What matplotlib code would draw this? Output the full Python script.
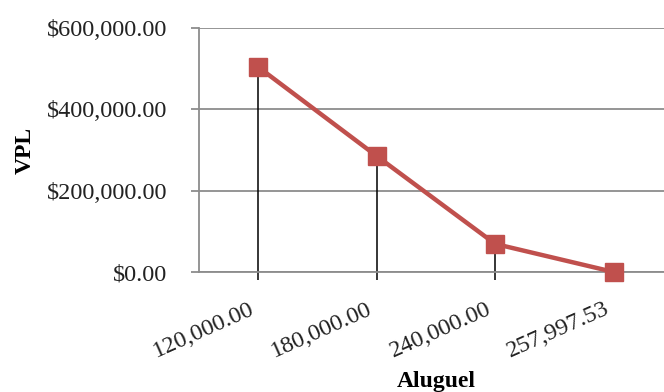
import matplotlib.pyplot as plt
import matplotlib.transforms as mtransforms
from matplotlib.ticker import FuncFormatter

# Values
aluguel = ["120,000.00", "180,000.00", "240,000.00", "257,997.53"]
vpl = [504000, 285000, 69000, 0]
y_ticks = [0, 200000, 400000, 600000]

plt.rcParams['font.family'] = ['Liberation Serif', 'DejaVu Serif']

fig = plt.figure(figsize=(6.64, 3.92), dpi=100)
ax = fig.add_axes([199/664, 1 - 272/392, 474/664, 244/392])

x = list(range(len(aluguel)))
grid_col = '#8c8c8c'

ax.vlines(x, 0, vpl, colors='black', linewidth=1.1, zorder=2)
ax.plot(x, vpl, color='#c0504d', linewidth=3.2, marker='s', markersize=13,
        zorder=3, clip_on=False)

ax.set_xlim(-0.5, 3.5)
ax.set_ylim(0, 600000)
ax.set_yticks(y_ticks)
ax.yaxis.set_major_formatter(FuncFormatter(lambda v, p: "${:,.2f}".format(v)))
ax.grid(axis='y', color=grid_col, linewidth=1.3)
ax.set_axisbelow(True)

for s in ['top', 'right']:
    ax.spines[s].set_visible(False)
for s in ['left', 'bottom']:
    ax.spines[s].set_color(grid_col)
    ax.spines[s].set_linewidth(1.3)

ax.set_xticks(x)
ax.set_xticklabels(aluguel, rotation=24, ha='right', va='top',
                   rotation_mode='anchor')
ax.tick_params(axis='x', length=6, width=1.1, color='black', pad=13,
               labelsize=17.5, labelcolor='#222222')
ax.tick_params(axis='y', length=6, width=1.3, color=grid_col, pad=17,
               labelsize=17.5, labelcolor='#222222')
# nudge the slanted labels a bit to the left of their ticks
shift = mtransforms.ScaledTranslation(-7/72, 0, fig.dpi_scale_trans)
for lab in ax.get_xticklabels():
    lab.set_transform(lab.get_transform() + shift)

ax.set_ylabel("VPL", fontsize=17, fontweight='bold', labelpad=8)
ax.set_xlabel("Aluguel", fontsize=17, fontweight='bold', labelpad=6)

fig.savefig("out.png", dpi=100)
